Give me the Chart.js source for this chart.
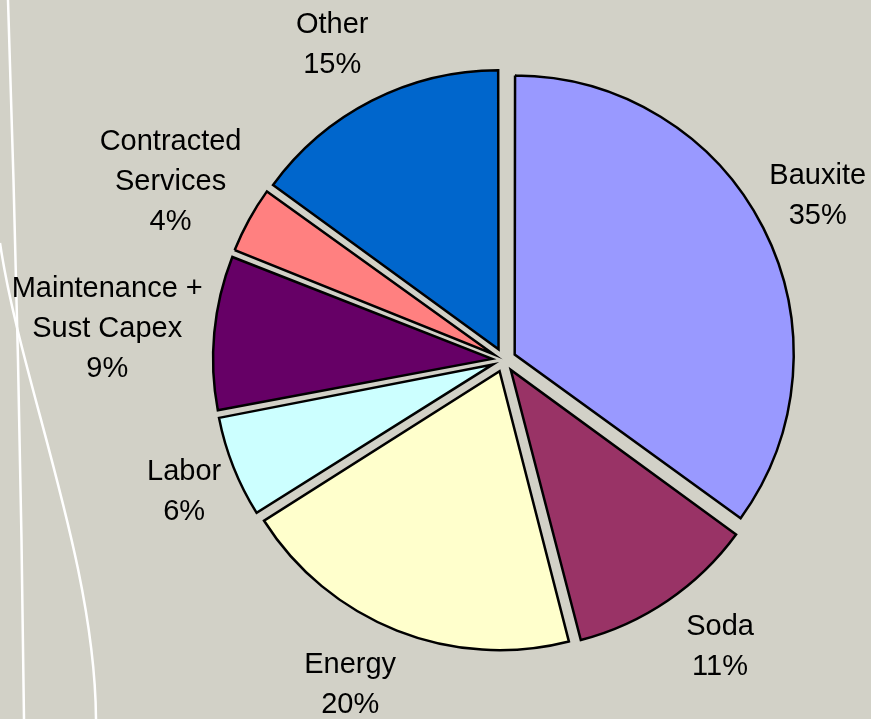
<!DOCTYPE html>
<html>
<head>
<meta charset="utf-8">
<script src="https://cdn.jsdelivr.net/npm/chart.js@4/dist/chart.umd.min.js"></script>
<style>
  html, body { margin: 0; padding: 0; background: #d2d1c7; }
  canvas { display: block; }
</style>
</head>
<body>
<canvas id="costChart" width="871" height="719"></canvas>
<script>
// Cost breakdown (percent)
const categories = ["Bauxite", "Soda", "Energy", "Labor", "Maintenance +\nSust Capex", "Contracted\nServices", "Other"];
const shares = [35, 11, 20, 6, 9, 4, 15];
const sliceColors = ["#9999ff", "#993366", "#ffffcc", "#ccffff", "#660066", "#ff8080", "#0066cc"];

// label placement: distance from pie centre and small turn (degrees)
const labelDist = [354, 359, 360, 346, 398, 378, 359];
const labelTurn = [-0.6, -2.8, 3.7, -0.8, -0.9, -0.7, -1.6];

const pieRadius = 279;
const explode = 12;

// white curves of the slide template on the left
const backdrop = {
    id: "backdrop",
    beforeDraw(chart) {
        let ctx = chart.ctx;
        ctx.save();
        ctx.fillStyle = "#d2d1c7";
        ctx.fillRect(0, 0, chart.width, chart.height);
        ctx.strokeStyle = "#ffffff";
        ctx.lineWidth = 2.5;
        ctx.beginPath();
        ctx.moveTo(8, 0);
        ctx.quadraticCurveTo(20, 360, 24, 719);
        ctx.stroke();
        ctx.beginPath();
        ctx.moveTo(0, 243);
        ctx.bezierCurveTo(20, 380, 95, 560, 96, 719);
        ctx.stroke();
        ctx.restore();
    }
};

// keep every exploded slice at the same radius
const evenRadius = {
    id: "evenRadius",
    beforeDatasetsDraw(chart) {
        chart.getDatasetMeta(0).data.forEach(arc => {
            let fix = 1 - Math.sin(Math.min(Math.PI, arc.circumference));
            arc.outerRadius = pieRadius - explode * fix;
        });
    }
};

const sliceLabels = {
    id: "sliceLabels",
    afterDatasetsDraw(chart) {
        let ctx = chart.ctx;
        let arcs = chart.getDatasetMeta(0).data;
        ctx.save();
        ctx.font = "29px 'Liberation Sans', Arial, sans-serif";
        ctx.fillStyle = "#000";
        ctx.textAlign = "center";
        ctx.textBaseline = "middle";
        arcs.forEach((arc, i) => {
            let mid = (arc.startAngle + arc.endAngle) / 2 + labelTurn[i] * Math.PI / 180;
            let cx = arc.x + Math.cos(mid) * labelDist[i];
            let cy = arc.y + Math.sin(mid) * labelDist[i];
            let lines = categories[i].split("\n").concat([shares[i] + "%"]);
            let top = cy - (lines.length - 1) * 20;
            lines.forEach((t, k) => ctx.fillText(t, cx, top + k * 40));
        });
        ctx.restore();
    }
};

new Chart(document.getElementById("costChart"), {
    type: "pie",
    data: {
        labels: categories,
        datasets: [{
            data: shares,
            backgroundColor: sliceColors,
            borderColor: "#000000",
            borderWidth: 2.5,
            borderJoinStyle: "miter",
            offset: explode * 4,
            hoverOffset: 0
        }]
    },
    options: {
        responsive: false,
        animation: false,
        radius: pieRadius,
        layout: { padding: { left: 137, right: 0, top: 1, bottom: 0 } },
        plugins: {
            legend: { display: false },
            tooltip: { enabled: false }
        },
        events: []
    },
    plugins: [backdrop, evenRadius, sliceLabels]
});
</script>
</body>
</html>
